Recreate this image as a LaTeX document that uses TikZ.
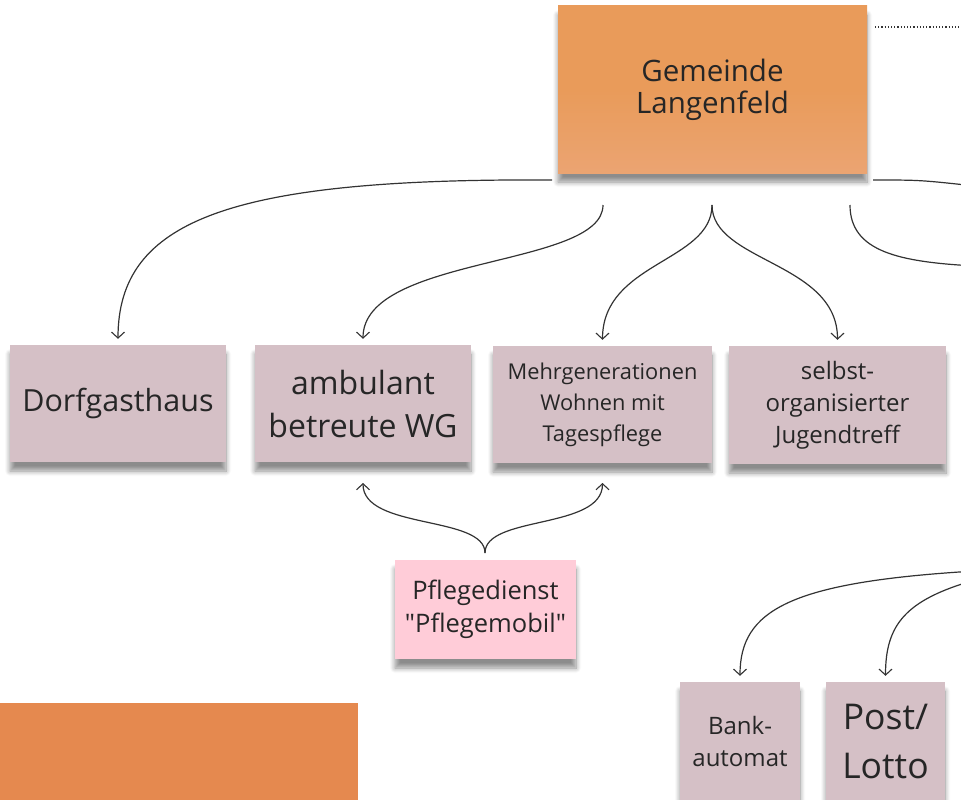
\documentclass[tikz,border=0pt]{standalone}
\usepackage{fontspec}
\setmainfont{Open Sans}[Ligatures=TeXOff]
\usetikzlibrary{arrows.meta,shadows.blur}
\definecolor{gemorange}{HTML}{E99B5A}
\definecolor{gemlight}{HTML}{EBA472}
\definecolor{mauve}{HTML}{D5C0C6}
\definecolor{pinkbox}{HTML}{FFCCD8}
\definecolor{botorange}{HTML}{E5894F}
\definecolor{ink}{HTML}{262626}
\definecolor{wire}{HTML}{333333}
\tikzset{
  x=1pt, y=-1pt,
  note/.style={rectangle, align=center, text=ink, inner sep=2pt,
    blur shadow={shadow xshift=0pt, shadow yshift=-9pt,
      shadow blur radius=5pt, shadow blur steps=8, shadow opacity=45}},
  mauvebox/.style={note, fill=mauve},
  conn/.style={draw=wire, line width=1.2pt, -{Straight Barb[length=6pt,width=13pt,line width=1.1pt]}, shorten >=6pt},
  plain/.style={draw=wire, line width=1.2pt},
}
\begin{document}
\begin{tikzpicture}
\useasboundingbox (0,0) rectangle (961,800);
% boxes
\node[note, top color=gemorange, bottom color=gemlight, middle color=gemorange, minimum width=309pt, minimum height=167pt,
  font=\fontsize{29.5}{32}\selectfont] (gem) at (712.5,89.5) {Gemeinde\\Langenfeld};
\node[mauvebox, minimum width=216pt, minimum height=117pt,
  font=\fontsize{30.5}{42}\selectfont] (dorf) at (118,403.5) {Dorfgasthaus};
\node[mauvebox, minimum width=216pt, minimum height=117pt,
  font=\fontsize{32}{43}\selectfont] (amb) at (363,403.5) {ambulant\\betreute WG};
\node[mauvebox, minimum width=219pt, minimum height=117pt,
  font=\fontsize{21.8}{31}\selectfont] (mehr) at (602.5,404.5) {Mehrgenerationen\\Wohnen mit\\Tagespflege};
\node[mauvebox, minimum width=217pt, minimum height=118pt,
  font=\fontsize{24}{32}\selectfont] (selb) at (837.5,405) {selbst-\\organisierter\\Jugendtreff};
\node[note, fill=pinkbox, minimum width=181pt, minimum height=99pt,
  font=\fontsize{25.5}{33}\selectfont] (pfl) at (485.5,609.5) {Pflegedienst\\"Pflegemobil"};
\node[mauvebox, minimum width=120pt, minimum height=118pt,
  font=\fontsize{24}{32}\selectfont] (bank) at (740,741) {Bank-\\automat};
\node[mauvebox, minimum width=119pt, minimum height=118pt,
  font=\fontsize{35.5}{49}\selectfont] (post) at (885.5,741) {Post/\\Lotto};
\node[rectangle, fill=botorange, minimum width=358pt, minimum height=110pt, inner sep=0pt] (bot) at (179,758) {};
% free ends
\coordinate (g1) at (552,180);
\coordinate (g2) at (603,205);
\coordinate (g3) at (712,205);
\coordinate (g4) at (850,205);
\coordinate (g5) at (873,180);
\coordinate (e4) at (975,266);
\coordinate (e5) at (975,186);
\coordinate (d1) at (875,27);
\coordinate (d2) at (975,27);
\coordinate (p0) at (485,553);
\coordinate (r1) at (975,571);
\coordinate (r2) at (975,580);
% connectors
\draw[conn] (g1) .. controls (230,178) and (118,220) .. (dorf.north);
\draw[conn] (g2) .. controls (603,268) and (363,255) .. (amb.north);
\draw[conn] (g3) .. controls (712,262) and (602.5,262) .. (mehr.north);
\draw[conn] (g3) .. controls (712,262) and (837.5,262) .. (selb.north);
\draw[plain] (g4) .. controls (850,252) and (900,262) .. (e4);
\draw[plain] (g5) .. controls (920,180) .. (e5);
\draw[wire, line width=1.2pt, dotted] (d1) -- (d2);
\draw[conn, shorten >=0pt] (p0) .. controls (485,515) and (363,530) .. (amb.south |- 0,483);
\draw[conn, shorten >=0pt] (p0) .. controls (485,515) and (602.5,530) .. (mehr.south |- 0,483);
\draw[conn] (r1) .. controls (790,582) and (740,610) .. (bank.north);
\draw[conn] (r2) .. controls (905,600) and (885.5,625) .. (post.north);
\end{tikzpicture}
\end{document}
